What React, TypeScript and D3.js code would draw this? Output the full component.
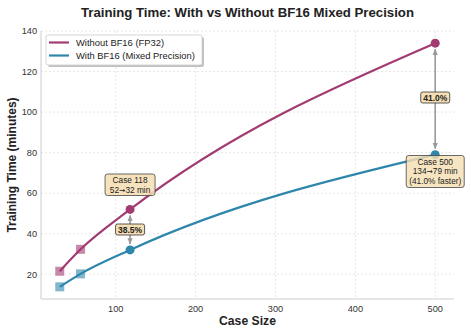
import React from 'react';
import * as d3 from 'd3';

const caseSizes = [30, 56, 118, 500];
const fp32Minutes = [21.5, 32.3, 52, 134];
const bf16Minutes = [13.8, 20.2, 32, 79];
const markerShapes = ['square', 'square', 'circle', 'circle'];
const xTicks = [100, 200, 300, 400, 500];
const yTicks = [20, 40, 60, 80, 100, 120, 140];

const PINK = '#A23B72';
const BLUE = '#2E86AB';
const FONT = '"Liberation Sans", Arial, Helvetica, sans-serif';
const ARROW_FONT = '"DejaVu Sans", sans-serif';

export default function App() {
  const W = 471, H = 331;
  const m = { left: 41, right: 454, top: 31, bottom: 299 };
  const x = d3.scaleLinear().domain([6.5, 523.5]).range([m.left, m.right]);
  const y = d3.scaleLinear().domain([7.8, 140]).range([m.bottom, m.top]);

  const line = d3.line<number>()
    .x((_, i) => x(caseSizes[i]))
    .y(d => y(d))
    .curve(d3.curveMonotoneX);

  const series = [
    { name: 'Without BF16 (FP32)', color: PINK, values: fp32Minutes },
    { name: 'With BF16 (Mixed Precision)', color: BLUE, values: bf16Minutes },
  ];

  const markers = (values: number[], color: string) =>
    values.map((v, i) => {
      const cx = x(caseSizes[i]);
      const cy = y(v);
      return markerShapes[i] === 'square' ? (
        <rect key={i} x={cx - 4.5} y={cy - 4.5} width={9} height={9} fill={color} opacity={0.6} />
      ) : (
        <circle key={i} cx={cx} cy={cy} r={4.5} fill={color} />
      );
    });

  const arrow = (xv: number, top: number, bot: number, label: string, ly: number) => {
    const ax = x(xv);
    const y1 = y(top) + 6;
    const y2 = y(bot) - 6;
    return (
      <g>
        <line x1={ax} x2={ax} y1={y1} y2={y2} stroke="#999" strokeWidth={1.6}
          markerStart="url(#ah)" markerEnd="url(#ah)" />
        <rect x={ax - 14.5} y={ly - 5.5} width={29} height={11} rx={2} fill="#F5DEB3" stroke="#333" strokeWidth={0.8} />
        <text x={ax} y={ly + 3} textAnchor="middle" fontSize={8.5} fontWeight="bold" fill="#222">{label}</text>
      </g>
    );
  };

  const change = (a: number, b: number) => (
    <>
      {a}<tspan fontFamily={ARROW_FONT} fontSize={7.5}>→</tspan>{b} min
    </>
  );

  return (
    <svg width={W} height={H} style={{ position: 'absolute', left: 0, top: 0, background: '#fff' }} fontFamily={FONT}>
      <defs>
        <marker id="ah" viewBox="0 0 10 10" refX="9" refY="5" markerWidth="4" markerHeight="4" orient="auto-start-reverse">
          <path d="M0,1 L10,5 L0,9 Z" fill="#999" />
        </marker>
      </defs>
      <text x={247.5} y={17} textAnchor="middle" fontSize={13.2} fontWeight="bold" fill="#222">
        Training Time: With vs Without BF16 Mixed Precision
      </text>

      {/* grid */}
      {xTicks.map(t => (
        <line key={'gx' + t} x1={x(t)} x2={x(t)} y1={m.top} y2={m.bottom} stroke="#ddd" strokeWidth={0.7} strokeDasharray="2,2" />
      ))}
      {yTicks.map(t => (
        <line key={'gy' + t} x1={m.left} x2={m.right} y1={y(t)} y2={y(t)} stroke="#ddd" strokeWidth={0.7} strokeDasharray="2,2" />
      ))}
      <line x1={m.left} x2={m.left} y1={m.top} y2={m.bottom} stroke="#ccc" strokeWidth={1} />
      <line x1={m.left} x2={m.right} y1={m.bottom} y2={m.bottom} stroke="#ccc" strokeWidth={1} />

      {xTicks.map(t => (
        <text key={'tx' + t} x={x(t)} y={m.bottom + 12.5} textAnchor="middle" fontSize={9.2} fill="#333">{t}</text>
      ))}
      {yTicks.map(t => (
        <text key={'ty' + t} x={m.left - 4} y={y(t) + 3.3} textAnchor="end" fontSize={9.2} fill="#333">{t}</text>
      ))}
      <text x={247.5} y={325} textAnchor="middle" fontSize={12.2} fontWeight="bold" fill="#222">Case Size</text>
      <text transform={`translate(16,${(m.top + m.bottom) / 2}) rotate(-90)`} textAnchor="middle" fontSize={12} fontWeight="bold" fill="#222">
        Training Time (minutes)
      </text>

      {series.map(s => (
        <g key={s.name}>
          <path d={line(s.values) || ''} fill="none" stroke={s.color} strokeWidth={2.2} />
          {markers(s.values, s.color)}
        </g>
      ))}

      {arrow(118, fp32Minutes[2], bf16Minutes[2], '38.5%', 229.5)}
      {arrow(500, fp32Minutes[3], bf16Minutes[3], '41.0%', 97.5)}

      {/* Case 118 note */}
      <g>
        <rect x={x(118) - 25} y={174} width={50} height={21.5} rx={2.5} fill="#F5DEB3" fillOpacity={0.85} stroke="#444" strokeWidth={0.8} />
        <text x={x(118)} y={183} textAnchor="middle" fontSize={8.3} fill="#222">Case 118</text>
        <text x={x(118)} y={192.5} textAnchor="middle" fontSize={8.3} fill="#222">{change(52, 32)}</text>
      </g>
      {/* Case 500 note */}
      <g>
        <rect x={x(500) - 29} y={155.5} width={58} height={32} rx={2.5} fill="#F5DEB3" fillOpacity={0.8} stroke="#444" strokeWidth={0.8} />
        <text x={x(500)} y={164.5} textAnchor="middle" fontSize={8.3} fill="#222">Case 500</text>
        <text x={x(500)} y={174} textAnchor="middle" fontSize={8.3} fill="#222">{change(134, 79)}</text>
        <text x={x(500)} y={183.5} textAnchor="middle" fontSize={8.3} fill="#222">(41.0% faster)</text>
      </g>

      {/* legend */}
      <g>
        <rect x={48} y={37} width={156} height={30} rx={2} fill="#999" opacity={0.6} />
        <rect x={46} y={35} width={156} height={30} rx={2} fill="#fff" stroke="#ccc" strokeWidth={0.8} />
        {series.map((s, i) => (
          <g key={'lg' + i}>
            <line x1={49} x2={69} y1={42.5 + i * 13} y2={42.5 + i * 13} stroke={s.color} strokeWidth={2.2} />
            <text x={76} y={45.8 + i * 13} fontSize={9.4} fill="#222">{s.name}</text>
          </g>
        ))}
      </g>
    </svg>
  );
}
